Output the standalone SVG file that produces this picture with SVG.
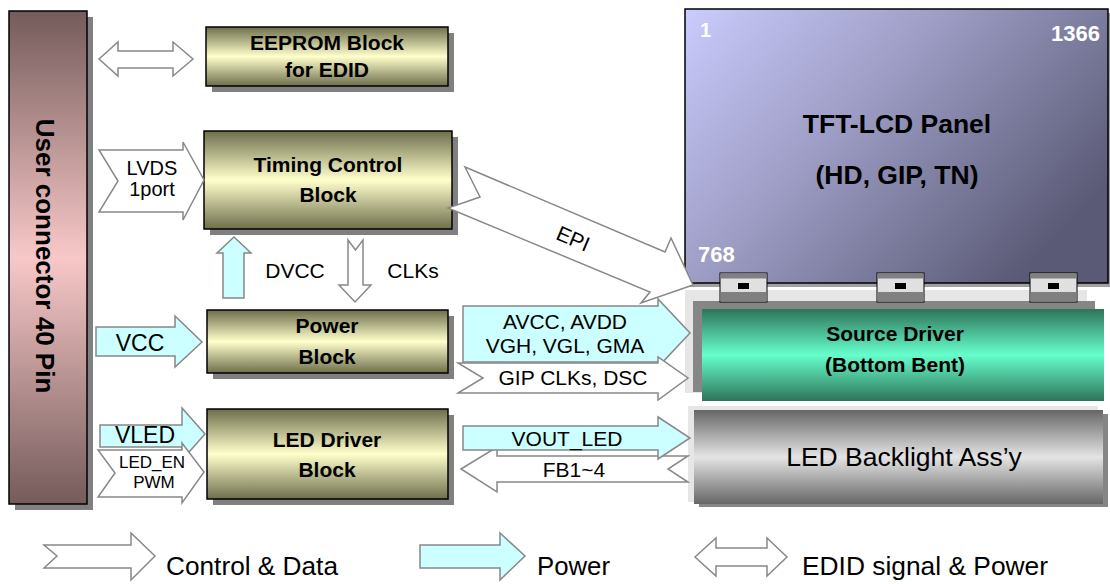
<svg xmlns="http://www.w3.org/2000/svg" width="1110" height="584" viewBox="0 0 1110 584">
<defs>
<linearGradient id="gOlive" x1="0" y1="0" x2="0" y2="1">
<stop offset="0" stop-color="#6e6e4c"/>
<stop offset="0.5" stop-color="#ffffcc"/>
<stop offset="1" stop-color="#6e6e4c"/>
</linearGradient>
<linearGradient id="gMauve" x1="0" y1="0" x2="0" y2="1">
<stop offset="0" stop-color="#755b5b"/>
<stop offset="0.5" stop-color="#f8c8c8"/>
<stop offset="1" stop-color="#755b5b"/>
</linearGradient>
<linearGradient id="gPanel" gradientUnits="userSpaceOnUse" x1="690" y1="10" x2="1000" y2="300">
<stop offset="0" stop-color="#cacafc"/>
<stop offset="0.45" stop-color="#9c9cc4"/>
<stop offset="1" stop-color="#5a5a76"/>
</linearGradient>
<linearGradient id="gGreen" x1="0" y1="0" x2="0" y2="1">
<stop offset="0" stop-color="#2e745a"/>
<stop offset="0.5" stop-color="#66ffcc"/>
<stop offset="1" stop-color="#2e745a"/>
</linearGradient>
<linearGradient id="gGray" x1="0" y1="0" x2="0" y2="1">
<stop offset="0" stop-color="#666666"/>
<stop offset="0.5" stop-color="#e4e4e4"/>
<stop offset="1" stop-color="#666666"/>
</linearGradient>
</defs>
<style>
text{font-family:"Liberation Sans",Arial,sans-serif;fill:#000}
.b{font-weight:bold}
.w{fill:#fff;font-weight:bold}
.blk{stroke:#000;stroke-width:1.5}
.sh{fill:#808080}
.ctl{fill:#fff;stroke:#888;stroke-width:1.5;stroke-linejoin:miter}
.pwr{fill:#ccffff;stroke:#888;stroke-width:1.5;stroke-linejoin:miter}
.mid{text-anchor:middle}
</style>

<g id="user-connector">
<rect class="sh" x="15" y="17" width="78" height="493"/>
<rect class="blk" x="9" y="11" width="78" height="493" fill="url(#gMauve)"/>
<text class="b mid" font-size="26" transform="translate(36,256) rotate(90)">User connector 40 Pin</text>
</g>

<g id="eeprom">
<rect class="sh" x="212" y="33" width="242" height="59"/>
<rect class="blk" x="206" y="27" width="242" height="59" fill="url(#gOlive)"/>
<text class="b mid" font-size="21" x="327" y="50">EEPROM Block</text>
<text class="b mid" font-size="21" x="327" y="77">for EDID</text>
</g>

<g id="timing-control">
<rect class="sh" x="210" y="137" width="248" height="98"/>
<rect class="blk" x="204" y="131" width="248" height="98" fill="url(#gOlive)"/>
<text class="b mid" font-size="21" x="328" y="172">Timing Control</text>
<text class="b mid" font-size="21" x="328" y="202">Block</text>
</g>

<g id="power-block">
<rect class="sh" x="213" y="316" width="241" height="63"/>
<rect class="blk" x="207" y="310" width="241" height="63" fill="url(#gOlive)"/>
<text class="b mid" font-size="21" x="327" y="333">Power</text>
<text class="b mid" font-size="21" x="327" y="364">Block</text>
</g>

<g id="led-driver">
<rect class="sh" x="213" y="415" width="241" height="90"/>
<rect class="blk" x="207" y="409" width="241" height="90" fill="url(#gOlive)"/>
<text class="b mid" font-size="21" x="327" y="447">LED Driver</text>
<text class="b mid" font-size="21" x="327" y="477">Block</text>
</g>

<g id="source-driver">
<rect x="685" y="290" width="402" height="103" fill="#e6e6e6"/>
<rect x="693" y="301" width="402" height="91" fill="#868686"/>
<rect x="702" y="309" width="402" height="92" fill="url(#gGreen)"/>
<text class="b mid" font-size="21" x="895" y="341">Source Driver</text>
<text class="b mid" font-size="21" x="895" y="372">(Bottom Bent)</text>
</g>

<g id="tft-panel">
<rect x="690" y="13" width="421" height="274" fill="#a0a0a0"/>
<rect x="685" y="9" width="423" height="274" fill="url(#gPanel)" stroke="#000" stroke-width="1.5"/>
<text class="w" font-size="20" x="700" y="37">1</text>
<text class="w" font-size="22" x="1100" y="41" text-anchor="end">1366</text>
<text class="w" font-size="22" x="698" y="262">768</text>
<text class="b mid" font-size="26.5" x="897" y="133">TFT-LCD Panel</text>
<text class="b mid" font-size="26.5" x="897" y="184">(HD, GIP, TN)</text>
<g id="chip1">
<rect x="720" y="273" width="47" height="29" fill="#e0e0e0" stroke="#000" stroke-width="1"/>
<rect x="720.5" y="273.5" width="46" height="5" fill="#808080"/>
<rect x="720.5" y="292" width="46" height="9.5" fill="#808080"/>
<rect x="738" y="283" width="11" height="6" fill="#000"/>
</g>
<g id="chip2">
<rect x="877" y="273" width="47" height="29" fill="#e0e0e0" stroke="#000" stroke-width="1"/>
<rect x="877.5" y="273.5" width="46" height="5" fill="#808080"/>
<rect x="877.5" y="292" width="46" height="9.5" fill="#808080"/>
<rect x="895" y="283" width="11" height="6" fill="#000"/>
</g>
<g id="chip3">
<rect x="1030" y="273" width="47" height="29" fill="#e0e0e0" stroke="#000" stroke-width="1"/>
<rect x="1030.5" y="273.5" width="46" height="5" fill="#808080"/>
<rect x="1030.5" y="292" width="46" height="9.5" fill="#808080"/>
<rect x="1048" y="283" width="11" height="6" fill="#000"/>
</g>
</g>

<g id="led-backlight">
<rect x="688" y="406" width="410" height="96" fill="#e6e6e6"/>
<rect x="699" y="414" width="409" height="93" fill="#868686"/>
<rect x="694" y="410" width="409" height="94" fill="url(#gGray)"/>
<text class="mid" font-size="26.5" x="904" y="466">LED Backlight Ass’y</text>
</g>

<g id="connectors">
<polygon class="ctl" points="99,59 118,42 118,51 173,51 173,42 193,59 173,76 173,68 118,68 118,76"/>
<polygon class="ctl" points="99,150 183,150 183,142 204,180 183,220 183,212 99,212 118,181"/>
<polygon class="ctl" points="465,167 665,252 671,238 693,285 641,303 650,292 448,208 480,197"/>
<polygon class="pwr" points="223,298 223,253 217,253 234,237 251,253 244,253 244,298"/>
<polygon class="ctl" points="348,240 355.5,250 363,240 363,285 371,285 355,302 339,285 348,285"/>
<polygon class="pwr" points="96,327 175,327 175,316 202,342 175,367 175,356 96,356"/>
<polygon class="pwr" points="100,425 182,425 182,408 205,434 182,460 182,447 100,447"/>
<polygon class="ctl" points="98,450 182,450 182,443 204,472 182,503 182,497 98,497 115,473"/>
<polygon class="pwr" points="463,306 658,306 658,299 690,333 658,367 658,362 463,362"/>
<polygon class="ctl" points="458,363 658,363 658,357 688,378 658,400 658,393 458,393 483,378"/>
<polygon class="ctl" points="461,469 497,447 497,456 688,456 668,469 688,482 497,482 497,492"/>
<polygon class="pwr" points="463,426 658,426 658,417 690,438 658,459 658,450 463,450"/>
<text class="mid" font-size="20" x="152" y="175">LVDS</text>
<text class="mid" font-size="20" x="152" y="196">1port</text>
<text class="mid" font-size="21" transform="translate(573,239) rotate(23)" x="0" y="7">EPI</text>
<text class="mid" font-size="21" x="295" y="278">DVCC</text>
<text class="mid" font-size="21" x="413" y="278">CLKs</text>
<text class="mid" font-size="23" x="140" y="351">VCC</text>
<text class="mid" font-size="23" x="145" y="443">VLED</text>
<text class="mid" font-size="17" x="152" y="468">LED_EN</text>
<text class="mid" font-size="17" x="154" y="488">PWM</text>
<text class="mid" font-size="21" x="565" y="329">AVCC, AVDD</text>
<text class="mid" font-size="21" x="565" y="353">VGH, VGL, GMA</text>
<text class="mid" font-size="21" x="573" y="385">GIP CLKs, DSC</text>
<text class="mid" font-size="21" x="567" y="446">VOUT_LED</text>
<text class="mid" font-size="21" x="574" y="477">FB1~4</text>
</g>

<g id="legend">
<polygon class="ctl" points="44,545 131,545 131,533 155,556 131,580 131,568 44,568 57,556"/>
<text font-size="26" x="166" y="575" textLength="172" lengthAdjust="spacingAndGlyphs">Control &amp; Data</text>
<polygon class="pwr" points="420,545 500,545 500,533 525,556 500,580 500,568 420,568"/>
<text font-size="26" x="537" y="575" textLength="73" lengthAdjust="spacingAndGlyphs">Power</text>
<polygon class="ctl" points="695,557 716,538 716,548 767,548 767,538 787,557 767,576 767,566 716,566 716,576"/>
<text font-size="26" x="802" y="575" textLength="246" lengthAdjust="spacingAndGlyphs">EDID signal &amp; Power</text>
</g>
</svg>
